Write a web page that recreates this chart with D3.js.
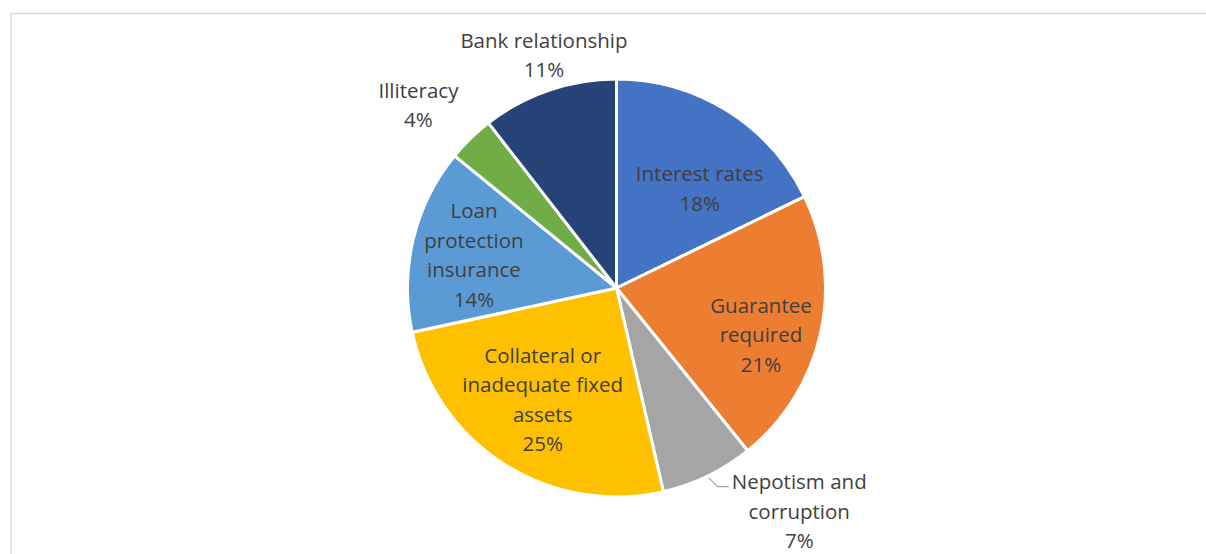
<!DOCTYPE html>
<html>
<head>
<meta charset="utf-8">
<script src="https://cdn.jsdelivr.net/npm/d3@7"></script>
<style>
  html, body { margin: 0; padding: 0; background: #fff; }
  svg { display: block; }
</style>
</head>
<body>
<svg id="chart" width="1206" height="554"></svg>
<script>
// ---- data ----
const categories = ["Interest rates", "Guarantee required", "Nepotism and corruption",
  "Collateral or inadequate fixed assets", "Loan protection insurance", "Illiteracy", "Bank relationship"];
const values = [17.8, 21.4, 7.2, 25.2, 14.3, 3.6, 10.5];
const percentLabels = ["18%", "21%", "7%", "25%", "14%", "4%", "11%"];
const labelLines = [
  ["Interest rates"],
  ["Guarantee", "required"],
  ["Nepotism and", "corruption"],
  ["Collateral or", "inadequate fixed", "assets"],
  ["Loan", "protection", "insurance"],
  ["Illiteracy"],
  ["Bank relationship"]
];
const colors = ["#4472C4", "#ED7D31", "#A5A5A5", "#FFC000", "#5B9BD5", "#70AD47", "#264478"];
// label placement (fraction of radius, angular shift in degrees)
const labelRadius = [0.62, 0.727, 1.38, 0.64, 0.70, 1.29, 1.167];
const labelShift = [7.9, 5.4, -13.4, 1.1, -0.5, -3.0, 1.6];
const hasLeader = [false, false, true, false, false, false, false];

// ---- layout ----
const W = 1206, H = 554;
const cx = 616.5, cy = 288, R = 209;
const svg = d3.select("#chart");

// chart area border
svg.append("rect")
  .attr("x", 11).attr("y", 13.5)
  .attr("width", W + 20).attr("height", H + 20)
  .attr("fill", "#fff").attr("stroke", "#D9D9D9").attr("stroke-width", 1.5);

const pie = d3.pie().sort(null).value(d => d);
const arcs = pie(values);
const arc = d3.arc().innerRadius(0).outerRadius(R);

const g = svg.append("g").attr("transform", `translate(${cx},${cy})`);
g.selectAll("path.slice").data(arcs).join("path")
  .attr("class", "slice")
  .attr("d", arc)
  .attr("fill", (d, i) => colors[i])
  .attr("stroke", "#fff")
  .attr("stroke-width", 3)
  .attr("stroke-linejoin", "round");

const lineH = 29.5;
const fontFamily = "'Open Sans', sans-serif";
arcs.forEach((a, i) => {
  const mid = (a.startAngle + a.endAngle) / 2;
  const ang = mid + labelShift[i] * Math.PI / 180;
  const lx = Math.sin(ang) * R * labelRadius[i];
  const ly = -Math.cos(ang) * R * labelRadius[i];
  const lines = labelLines[i].concat([percentLabels[i]]);
  const top = ly - (lines.length - 1) * lineH / 2;
  const t = g.append("text")
    .attr("text-anchor", "middle")
    .attr("font-family", fontFamily)
    .attr("font-size", 20.5)
    .attr("fill", "#404040");
  lines.forEach((s, k) => {
    t.append("tspan").attr("x", lx).attr("y", top + k * lineH).attr("dy", "0.36em").text(s);
  });
  if (hasLeader[i]) {
    const bb = t.node().getBBox();
    const sx = Math.sin(mid) * R * 1.01, sy = -Math.cos(mid) * R * 1.01;
    const ey = top + 5;
    const ex = bb.x - 3;
    g.append("polyline")
      .attr("points", [[sx, sy], [sx + (ey - sy), ey], [ex, ey]].map(p => p.join(",")).join(" "))
      .attr("fill", "none").attr("stroke", "#A6A6A6").attr("stroke-width", 1.3);
  }
});
</script>
</body>
</html>
